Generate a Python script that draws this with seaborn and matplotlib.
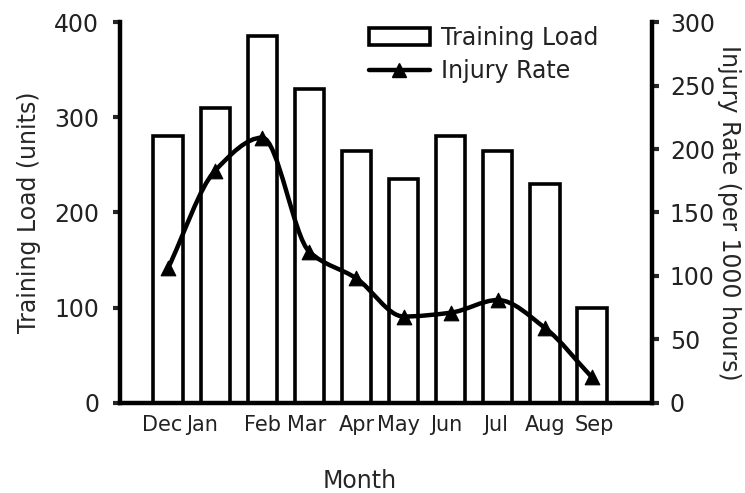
import numpy as np
import pandas as pd
import matplotlib
matplotlib.use("Agg")
import matplotlib.pyplot as plt
import seaborn as sns
from matplotlib.lines import Line2D
from matplotlib.patches import Patch, PathPatch
from matplotlib.path import Path

# data
months = ["Dec", "Jan", "Feb", "Mar", "Apr", "May", "Jun", "Jul", "Aug", "Sep"]
training_load = [280, 310, 385, 330, 265, 235, 280, 265, 230, 100]
injury_rate = [106, 183, 209, 119, 98, 68, 71, 81, 59, 20]

# where the month names sit (Jan is pushed left next to Dec in the original)
label_pos = [-0.12, 0.72, 2, 2.95, 4, 4.9, 5.9, 6.95, 8, 9.05]

df = pd.DataFrame({"month": months, "load": training_load, "rate": injury_rate})
df["x"] = np.arange(len(months))

sns.set_style("white")
plt.rcParams["font.family"] = ["DejaVu Sans"]
plt.rcParams["text.color"] = "#222222"

fig = plt.figure(figsize=(7.45, 4.93), dpi=100)
ax = fig.add_axes([0.161, 0.183, 0.714, 0.772])

ax.bar(df["x"], df["load"], width=0.62, color="white", edgecolor="black", linewidth=2.6, zorder=2)
ax.set_xlim(-1.02, 10.27)
ax.set_ylim(0, 400)
ax.set_yticks([0, 100, 200, 300, 400])
ax.set_xticks(label_pos)
ax.set_xticklabels(months)
ax.tick_params(axis="x", length=0, pad=9, labelsize=15, labelcolor="#222222")
ax.tick_params(axis="y", direction="out", length=5, width=3, pad=10, labelsize=17,
               left=True, labelcolor="#222222")
ax.set_ylabel("Training Load (units)", fontsize=17)
ax.yaxis.set_label_coords(-0.171, 0.5)
ax.yaxis.label.set_va("center")
ax.set_xlabel("Month", fontsize=17)
ax.xaxis.set_label_coords(0.451, -0.205)
ax.xaxis.label.set_va("center")

ax2 = ax.twinx()
ax2.set_ylim(0, 300)

# smooth curve through the monthly points (monotone cubic, drawn as Bezier)
xs = df["x"].to_numpy(float)
ys = df["rate"].to_numpy(float)
d = np.diff(ys) / np.diff(xs)
m = np.zeros_like(ys)
m[0], m[-1] = d[0], d[-1]
for k in range(1, len(ys) - 1):
    if d[k - 1] * d[k] > 0:
        m[k] = 2 / (1 / d[k - 1] + 1 / d[k])
verts = [(xs[0], ys[0])]
codes = [Path.MOVETO]
for k in range(len(xs) - 1):
    h = xs[k + 1] - xs[k]
    verts += [(xs[k] + h / 3, ys[k] + m[k] * h / 3),
              (xs[k + 1] - h / 3, ys[k + 1] - m[k + 1] * h / 3),
              (xs[k + 1], ys[k + 1])]
    codes += [Path.CURVE4] * 3
ax2.add_patch(PathPatch(Path(verts, codes), facecolor="none", edgecolor="black",
                        linewidth=3.2, zorder=3, capstyle="round", joinstyle="round"))
sns.scatterplot(data=df, x="x", y="rate", ax=ax2, color="black", marker="^", s=110,
                edgecolor="black", zorder=4, legend=False)

ax2.set_yticks([0, 50, 100, 150, 200, 250, 300])
ax2.tick_params(axis="y", direction="out", length=5, width=3, pad=8, labelsize=17,
                right=True, labelcolor="#222222")
ax2.set_ylabel("Injury Rate (per 1000 hours)", fontsize=17, rotation=270)
ax2.yaxis.set_label_coords(1.145, 0.5)
ax2.yaxis.label.set_va("center")
ax2.set_xlabel("")

for a in (ax, ax2):
    a.spines["top"].set_visible(False)
    for s in ("left", "right", "bottom"):
        a.spines[s].set_linewidth(3.2)
        a.spines[s].set_color("black")
ax.spines["right"].set_visible(False)
ax2.spines["left"].set_visible(False)
ax2.spines["bottom"].set_visible(False)

handles = [Patch(facecolor="white", edgecolor="black", linewidth=2.6),
           Line2D([], [], color="black", linewidth=3.2, marker="^", markersize=10)]
ax2.legend(handles, ["Training Load", "Injury Rate"], loc="upper left",
           bbox_to_anchor=(0.45, 1.015), frameon=False, fontsize=17,
           handlelength=2.6, handleheight=0.7, handletextpad=0.45,
           labelspacing=0.4, borderaxespad=0)

fig.savefig("out.png", dpi=100)
